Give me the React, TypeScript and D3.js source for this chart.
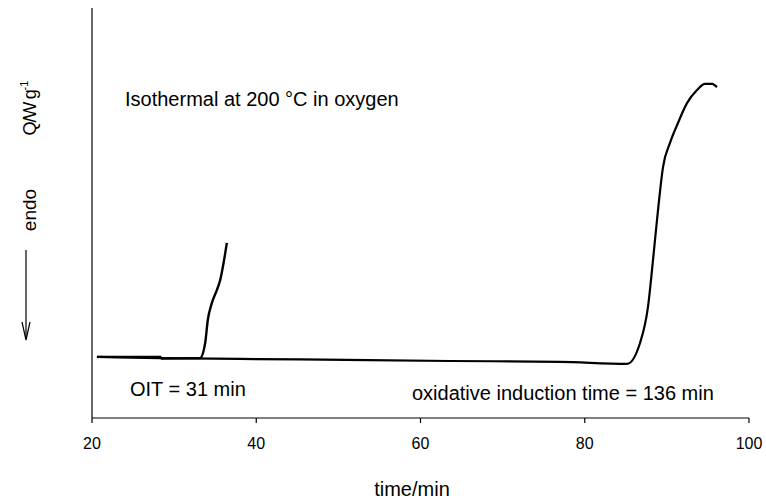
import React, { useEffect, useRef } from "react";
import * as d3 from "d3";

// x ticks (time/min)
const xTicks = [20, 40, 60, 80, 100];

// Short run (OIT = 31 min): time/min, heat flow (arbitrary units)
const shortTime = [20.6, 28.3, 28.5, 33.15, 33.78, 34.1, 34.59, 35.2, 35.62, 36.02, 36.42];
const shortFlow = [1.49, 1.49, 1.45, 1.46, 1.83, 2.39, 2.8, 3.12, 3.37, 3.78, 4.27];

// Long run (OIT = 136 min)
const longTime = [20.6, 28.3, 45.33, 63.6, 76.99, 85.14, 86.73, 87.7, 88.31, 88.92, 89.53, 90.38, 91.36, 92.45, 93.67, 94.64, 95.5, 96.1];
const longFlow = [1.49, 1.46, 1.43, 1.39, 1.37, 1.32, 1.83, 2.71, 3.85, 5.07, 6.12, 6.71, 7.2, 7.68, 8.0, 8.15, 8.15, 8.07];

const W = 766;
const H = 501;
const FONT = "'Liberation Sans', Arial, sans-serif";

export default function App() {
  const ref = useRef<SVGSVGElement | null>(null);

  useEffect(() => {
    const svg = d3.select(ref.current);
    svg.selectAll("*").remove();

    const x = d3.scaleLinear().domain([20, 100]).range([92, 749]);
    const y = d3.scaleLinear().domain([0, 10]).range([418, 8]);

    // axes
    svg.append("line").attr("x1", 92).attr("x2", 92).attr("y1", 8).attr("y2", 418)
      .attr("stroke", "#000").attr("stroke-width", 1.2);
    svg.append("line").attr("x1", 92).attr("x2", x(100)).attr("y1", 418).attr("y2", 418)
      .attr("stroke", "#000").attr("stroke-width", 1.2);

    const tg = svg.append("g");
    xTicks.forEach((t) => {
      tg.append("line").attr("x1", x(t)).attr("x2", x(t)).attr("y1", 418).attr("y2", 423)
        .attr("stroke", "#000").attr("stroke-width", 1.2);
      tg.append("text").attr("x", x(t)).attr("y", 449).attr("text-anchor", "middle")
        .attr("font-family", FONT).attr("font-size", 16).attr("fill", "#000").text(String(t));
    });

    svg.append("text").attr("x", 412).attr("y", 496).attr("text-anchor", "middle")
      .attr("font-family", FONT).attr("font-size", 20).attr("fill", "#000").text("time/min");

    // curves
    const line = d3.line<[number, number]>().x((d) => x(d[0])).y((d) => y(d[1])).curve(d3.curveMonotoneX);
    const s1: [number, number][] = shortTime.map((t, i) => [t, shortFlow[i]]);
    const s2: [number, number][] = longTime.map((t, i) => [t, longFlow[i]]);
    svg.append("path").attr("d", line(s2) || "").attr("fill", "none").attr("stroke", "#000").attr("stroke-width", 2.2);
    svg.append("path").attr("d", line(s1) || "").attr("fill", "none").attr("stroke", "#000").attr("stroke-width", 2.4);

    // annotations
    svg.append("text").attr("x", 125).attr("y", 106).attr("font-family", FONT).attr("font-size", 20)
      .attr("fill", "#000").text("Isothermal at 200 °C in oxygen");
    svg.append("text").attr("x", 130).attr("y", 396).attr("font-family", FONT).attr("font-size", 20)
      .attr("fill", "#000").text("OIT = 31 min");
    svg.append("text").attr("x", 412).attr("y", 400).attr("font-family", FONT).attr("font-size", 20)
      .attr("fill", "#000").text("oxidative induction time = 136 min");

    // y label
    const yl = svg.append("text").attr("transform", "translate(36,108) rotate(-90)")
      .attr("text-anchor", "middle").attr("font-family", FONT).attr("font-size", 18).attr("fill", "#000");
    yl.append("tspan").attr("letter-spacing", -1.2).text("Q/W g");
    yl.append("tspan").attr("dy", -8).attr("font-size", 11).text("-1");
    svg.append("text").attr("transform", "translate(36,210) rotate(-90)")
      .attr("text-anchor", "middle").attr("font-family", FONT).attr("font-size", 19).attr("fill", "#000").text("endo");

    // arrow
    svg.append("line").attr("x1", 26).attr("x2", 26).attr("y1", 250).attr("y2", 339)
      .attr("stroke", "#000").attr("stroke-width", 1.2);
    svg.append("path").attr("d", "M22,322 L26,340 L30,322").attr("fill", "none")
      .attr("stroke", "#000").attr("stroke-width", 1.2);
  }, []);

  return (
    <svg ref={ref} width={W} height={H} style={{ position: "absolute", left: 0, top: 0, background: "#fff" }} />
  );
}
